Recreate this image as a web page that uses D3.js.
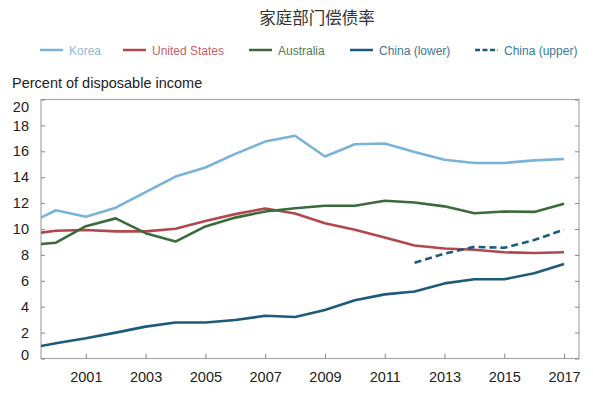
<!DOCTYPE html>
<html><head><meta charset="utf-8">
<script src="https://cdn.jsdelivr.net/npm/d3@7"></script>
<style>
body{margin:0;background:#fff;}
svg{display:block;font-family:"Liberation Sans",Arial,sans-serif;}
</style></head>
<body><svg id="c" width="593" height="398"></svg>
<script>
const years = [1999,2000,2001,2002,2003,2004,2005,2006,2007,2008,2009,2010,2011,2012,2013,2014,2015,2016,2017];
const korea = [10.3,11.45,10.95,11.65,12.85,14.05,14.75,15.8,16.75,17.2,15.6,16.55,16.6,15.95,15.35,15.1,15.1,15.3,15.4];
const unitedStates = [9.57,9.87,9.92,9.82,9.82,10.02,10.62,11.15,11.58,11.2,10.45,9.95,9.35,8.72,8.5,8.4,8.2,8.15,8.2];
const australia = [8.74,8.94,10.22,10.82,9.68,9.03,10.2,10.88,11.35,11.6,11.8,11.8,12.18,12.05,11.75,11.22,11.35,11.32,11.95];
const chinaLower = [0.75,1.18,1.56,2.0,2.46,2.78,2.78,2.97,3.3,3.2,3.75,4.5,4.95,5.18,5.8,6.12,6.12,6.58,7.3];
const chinaUpperYears = [2012,2013,2014,2015,2016,2017];
const chinaUpper = [7.4,8.1,8.62,8.55,9.15,9.95];
const yTicks = [0,2,4,6,8,10,12,14,16,18,20];
const xTicks = [2001,2003,2005,2007,2009,2011,2013,2015,2017];
const title = "家庭部门偿债率";
const yLabel = "Percent of disposable income";

const series = [
  {name:"Korea", xs:years, ys:korea, color:"#79b3d9", text:"#8db9d3", dash:null, lx:40},
  {name:"United States", xs:years, ys:unitedStates, color:"#b2474e", text:"#bf5f66", dash:null, lx:123},
  {name:"Australia", xs:years, ys:australia, color:"#3b6a3b", text:"#4f7d4f", dash:null, lx:249},
  {name:"China (lower)", xs:years, ys:chinaLower, color:"#1e5a7a", text:"#3b7898", dash:null, lx:350},
  {name:"China (upper)", xs:chinaUpperYears, ys:chinaUpper, color:"#1e5a7a", text:"#3b7898", dash:"7,4", lx:475}
];

const svg = d3.select("#c");
const L=41, R=579, T=99.5, B=358.5;
const x = d3.scaleLinear().domain([1999.5,2017.5]).range([L,R]);
const y = d3.scaleLinear().domain([0,20]).range([B,T]);

svg.append("text").attr("x",317).attr("y",24).attr("text-anchor","middle")
  .attr("font-family","'Noto Sans CJK SC',sans-serif").attr("font-size",16.5).attr("fill","#333").text(title);

// legend
const lg = svg.append("g");
series.forEach(s=>{
  lg.append("line").attr("x1",s.lx).attr("x2",s.lx+23).attr("y1",50).attr("y2",50)
    .attr("stroke",s.color).attr("stroke-width",2.5).attr("stroke-dasharray",s.dash ? "5,2.5" : null);
  lg.append("text").attr("x",s.lx+29).attr("y",54.5).attr("font-size",12).attr("fill",s.text).text(s.name);
});

svg.append("text").attr("x",12).attr("y",87.5).attr("font-size",14.5).attr("fill","#222").text(yLabel);

// frame
svg.append("rect").attr("x",L).attr("y",T).attr("width",R-L).attr("height",B-T)
  .attr("fill","none").attr("stroke","#a8a8a8").attr("stroke-width",1.2);

// y axis left (inward ticks)
const yAxisL = d3.axisLeft(y).tickValues(yTicks).tickSize(-4).tickPadding(12).tickFormat(d3.format("d"));
const gyl = svg.append("g").attr("transform",`translate(${L},0)`).call(yAxisL);
gyl.select(".domain").remove();
gyl.selectAll("line").attr("stroke","#888");
gyl.selectAll("text").attr("font-size",14.5).attr("fill","#222").attr("font-family","'Liberation Sans',Arial,sans-serif")
  .attr("dy",d=> d===20 ? "0.85em" : d===0 ? "0.05em" : "0.32em");
// y axis right ticks
const yAxisR = d3.axisRight(y).tickValues(yTicks).tickSize(-4).tickFormat("");
const gyr = svg.append("g").attr("transform",`translate(${R},0)`).call(yAxisR);
gyr.select(".domain").remove();
gyr.selectAll("line").attr("stroke","#888");

// x axis
const xAxis = d3.axisBottom(x).tickValues(xTicks).tickSize(-5).tickPadding(13).tickFormat(d3.format("d"));
const gx = svg.append("g").attr("transform",`translate(0,${B})`).call(xAxis);
gx.select(".domain").remove();
gx.selectAll("line").attr("stroke","#888");
gx.selectAll("text").attr("font-size",14.5).attr("fill","#222").attr("font-family","'Liberation Sans',Arial,sans-serif");

// clip
svg.append("clipPath").attr("id","clip").append("rect").attr("x",L).attr("y",T).attr("width",R-L).attr("height",B-T);

const line = d3.line().x(d=>x(d[0])).y(d=>y(d[1]));
const plot = svg.append("g").attr("clip-path","url(#clip)");
series.forEach(s=>{
  plot.append("path").datum(s.xs.map((v,i)=>[v,s.ys[i]]))
    .attr("d",line).attr("fill","none").attr("stroke",s.color).attr("stroke-width",2.6)
    .attr("stroke-linejoin","round").attr("stroke-dasharray",s.dash);
});
</script></body></html>
